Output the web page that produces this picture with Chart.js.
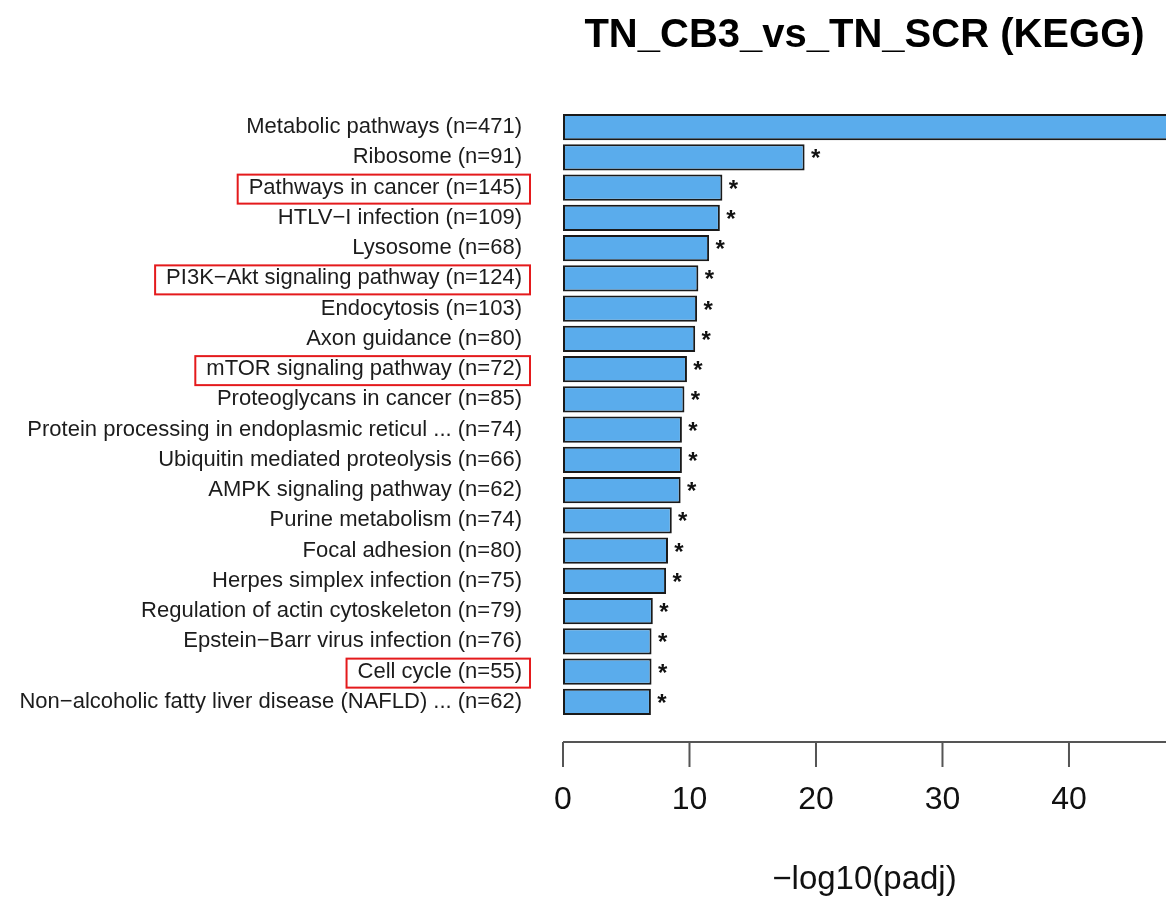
<!DOCTYPE html>
<html>
<head>
<meta charset="utf-8">
<script src="https://cdn.jsdelivr.net/npm/chart.js@4.4.1/dist/chart.umd.min.js"></script>
<style>
  body { margin: 0; background: #fff; }
  #wrap { width: 1166px; height: 900px; }
</style>
</head>
<body>
<div id="wrap"><canvas id="kegg-chart" width="1166" height="900"></canvas></div>
<script>
// KEGG pathways, top to bottom
const pathways = [
  "Metabolic pathways",
  "Ribosome",
  "Pathways in cancer",
  "HTLV\u2212I infection",
  "Lysosome",
  "PI3K\u2212Akt signaling pathway",
  "Endocytosis",
  "Axon guidance",
  "mTOR signaling pathway",
  "Proteoglycans in cancer",
  "Protein processing in endoplasmic reticul ...",
  "Ubiquitin mediated proteolysis",
  "AMPK signaling pathway",
  "Purine metabolism",
  "Focal adhesion",
  "Herpes simplex infection",
  "Regulation of actin cytoskeleton",
  "Epstein\u2212Barr virus infection",
  "Cell cycle",
  "Non\u2212alcoholic fatty liver disease (NAFLD) ..."
];
const geneCounts = [471, 91, 145, 109, 68, 124, 103, 80, 72, 85, 74, 66, 62, 74, 80, 75, 79, 76, 55, 62];
const negLogPadj = [50, 19.1, 12.6, 12.4, 11.55, 10.7, 10.6, 10.45, 9.8, 9.6, 9.4, 9.4, 9.3, 8.6, 8.3, 8.15, 7.1, 7.0, 7.0, 6.95];
const significant = [true, true, true, true, true, true, true, true, true, true, true, true, true, true, true, true, true, true, true, true];
const boxedPathways = ["Pathways in cancer", "PI3K\u2212Akt signaling pathway", "mTOR signaling pathway", "Cell cycle"];
const xTicks = [0, 10, 20, 30, 40];

const labels = pathways.map((p, i) => p + " (n=" + geneCounts[i] + ")");

const FONT = "'Liberation Sans', Arial, Helvetica, sans-serif";

// stars next to each significant bar
const starPlugin = {
  id: "stars",
  afterDatasetsDraw(chart) {
    const ctx = chart.ctx;
    const meta = chart.getDatasetMeta(0);
    ctx.save();
    ctx.beginPath();
    ctx.rect(chart.chartArea.left, 0, chart.chartArea.right - chart.chartArea.left, chart.height);
    ctx.clip();
    ctx.fillStyle = "#111";
    ctx.font = "bold 24px " + FONT;
    ctx.textAlign = "center";
    ctx.textBaseline = "alphabetic";
    meta.data.forEach((bar, i) => {
      if (!significant[i]) return;
      ctx.fillText("*", bar.x + 11, bar.y + 9);
    });
    ctx.restore();
  }
};

// x axis drawn below the bars with a gap, like base R
const axisPlugin = {
  id: "baseAxis",
  afterDraw(chart) {
    const ctx = chart.ctx;
    const xs = chart.scales.x;
    const yLine = chart.chartArea.bottom + 25;
    ctx.save();
    ctx.strokeStyle = "#555";
    ctx.lineWidth = 2;
    ctx.beginPath();
    ctx.moveTo(xs.getPixelForValue(0), yLine);
    ctx.lineTo(chart.chartArea.right, yLine);
    xTicks.forEach((t) => {
      const px = xs.getPixelForValue(t);
      ctx.moveTo(px, yLine);
      ctx.lineTo(px, yLine + 25);
    });
    ctx.stroke();
    ctx.restore();
  }
};

// red boxes around selected labels
const boxPlugin = {
  id: "labelBoxes",
  afterDraw(chart) {
    const ctx = chart.ctx;
    const ys = chart.scales.y;
    const labelRight = chart.chartArea.left - 41;
    ctx.save();
    ctx.font = "22px " + FONT;
    ctx.strokeStyle = "#e41a1c";
    ctx.lineWidth = 2;
    pathways.forEach((p, i) => {
      if (!boxedPathways.includes(p)) return;
      const w = ctx.measureText(labels[i]).width;
      const y = ys.getPixelForTick(i);
      ctx.strokeRect(labelRight - w - 11, y - 13, w + 19, 29);
    });
    ctx.restore();
  }
};

new Chart(document.getElementById("kegg-chart"), {
  type: "bar",
  data: {
    labels: labels,
    datasets: [
      {
        data: negLogPadj,
        backgroundColor: "#5aacec",
        borderColor: "#1a1a1a",
        borderWidth: 2,
        borderSkipped: false,
        barPercentage: 0.86,
        categoryPercentage: 1
      }
    ]
  },
  options: {
    indexAxis: "y",
    responsive: false,
    animation: false,
    layout: { padding: { left: 0, right: 0, top: 0, bottom: 0 } },
    plugins: {
      legend: { display: false },
      tooltip: { enabled: false },
      title: {
        display: true,
        text: "TN_CB3_vs_TN_SCR (KEGG)",
        fullSize: false,
        color: "#000",
        font: { family: FONT, size: 40, weight: "bold" },
        padding: { top: 12, bottom: 52 }
      }
    },
    scales: {
      x: {
        min: 0,
        max: 47.67,
        afterBuildTicks: (scale) => {
          scale.ticks = xTicks.map((v) => ({ value: v }));
        },
        afterFit: (scale) => {
          scale.height = 183;
        },
        grid: { display: false, drawTicks: false },
        border: { display: false },
        ticks: {
          color: "#111",
          padding: 64,
          font: { family: FONT, size: 32 }
        },
        title: {
          display: true,
          text: "\u2212log10(padj)",
          color: "#111",
          font: { family: FONT, size: 33 },
          padding: { top: 26, bottom: 0 }
        }
      },
      y: {
        afterFit: (scale) => {
          scale.width = 563;
        },
        grid: { display: false, drawTicks: false },
        border: { display: false },
        ticks: {
          color: "#1c1c1c",
          padding: 41,
          autoSkip: false,
          font: { family: FONT, size: 22 }
        }
      }
    }
  },
  plugins: [starPlugin, axisPlugin, boxPlugin]
});
</script>
</body>
</html>
